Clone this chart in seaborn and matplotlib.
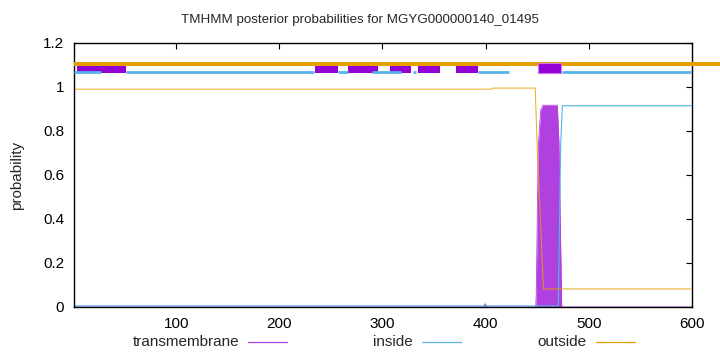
import numpy as np
import pandas as pd
import matplotlib
matplotlib.use("Agg")
import matplotlib.pyplot as plt
import seaborn as sns
from matplotlib.lines import Line2D

sns.set_theme(style="white")
plt.rcParams['font.family'] = ['Liberation Sans', 'DejaVu Sans']

title = "TMHMM posterior probabilities for MGYG000000140_01495"
seq_len = 599

# posterior probability curves (breakpoints)
tm_pos = [1, 398, 399.5, 401, 448.5, 449, 451, 453.4, 455.6, 469.4, 471, 473.7, 599]
tm_prob = [0.0, 0.0, 0.015, 0.0, 0.0, 0.05, 0.73, 0.895, 0.917, 0.917, 0.75, 0.0, 0.0]
inside_pos = [1, 470.4, 472.7, 474.3, 599]
inside_prob = [0.005, 0.005, 0.73, 0.915, 0.915]
outside_pos = [1, 406, 407, 448, 450, 456, 599]
outside_prob = [0.99, 0.99, 0.995, 0.995, 0.73, 0.082, 0.082]

# predicted topology bars at the top
outside_bar = [1, 640]
tm_box_starts = [4, 235, 267, 307, 334, 371]
tm_box_ends = [51, 257, 296, 328, 356, 393]
tm_main_box = [450.5, 472.7]
inside_starts = [1, 51, 257, 290, 330, 393, 474]
inside_ends = [27.6, 234, 267, 318, 332.6, 423, 599]

levels = {"outside": 1.105, "tm_bottom": 1.0636, "tm_top": 1.0955,
          "tm_main_top": 1.1105, "inside": 1.066}

xticks = [100, 200, 300, 400, 500, 600]
yticks = [0, 0.2, 0.4, 0.6, 0.8, 1.0, 1.2]
ytick_labels = ["0", "0.2", "0.4", "0.6", "0.8", "1", "1.2"]
legend_labels = ["transmembrane", "inside", "outside"]

c_tm = "#9400D3"
c_tm_fill = "#b040e0"
c_in = "#56B4E9"
c_out = "#E69F00"

W, H = 720, 352
fig = plt.figure(figsize=(W / 100, H / 100), dpi=100)
ax = fig.add_axes([74 / W, 1 - 307 / H, (692 - 74) / W, (307 - 43) / H])

tm_df = pd.DataFrame({"pos": tm_pos, "prob": tm_prob})
in_df = pd.DataFrame({"pos": inside_pos, "prob": inside_prob})
out_df = pd.DataFrame({"pos": outside_pos, "prob": outside_prob})

ax.fill_between(tm_df["pos"], 0, tm_df["prob"], color=c_tm_fill, lw=0)
sns.lineplot(data=tm_df, x="pos", y="prob", ax=ax, color=c_tm_fill, lw=0.6)
sns.lineplot(data=in_df, x="pos", y="prob", ax=ax, color=c_in, lw=0.8)
sns.lineplot(data=out_df, x="pos", y="prob", ax=ax, color=c_out, lw=0.8, alpha=0.8)

# topology bars
ax.hlines(levels["outside"], outside_bar[0], outside_bar[1], color=c_out, lw=2.9,
          clip_on=False, zorder=3)
tm_w = [e - s for s, e in zip(tm_box_starts, tm_box_ends)]
ax.bar(tm_box_starts, levels["tm_top"] - levels["tm_bottom"], width=tm_w,
       bottom=levels["tm_bottom"], align="edge", color=c_tm, lw=0, zorder=4)
ax.bar([tm_main_box[0]], levels["tm_main_top"] - levels["tm_bottom"],
       width=tm_main_box[1] - tm_main_box[0], bottom=levels["tm_bottom"],
       align="edge", color=c_tm, edgecolor="#c878e8", lw=0.8, zorder=4)
ax.hlines([levels["inside"]] * len(inside_starts), inside_starts, inside_ends,
          color=c_in, lw=2.0, zorder=5)

ax.set_xlim(1, seq_len)
ax.set_ylim(0, 1.2)
ax.set_xticks(xticks)
ax.set_xticklabels([str(t) for t in xticks])
ax.set_yticks(yticks)
ax.set_yticklabels(ytick_labels)
ax.set_xlabel("")
ax.set_ylabel("")
ax.tick_params(direction="in", length=4, width=0.8, top=True, right=True,
               labelsize=11, colors="black")
ax.tick_params(axis="x", pad=7)
ax.tick_params(axis="y", pad=7)
for s in ax.spines.values():
    s.set_color("black")
    s.set_linewidth(1.0)
    s.set_visible(True)

fig.text(0.5, 1 - 20 / H, title, ha="center", va="center", fontsize=9.6)
fig.text(17 / W, 1 - 175 / H, "probability", rotation=90, ha="center",
         va="center", fontsize=11)

# legend: right-aligned labels followed by sample lines
leg_y = 1 - 342 / H
leg_right = [239, 413, 587]
for lab, col, xr in zip(legend_labels, [c_tm_fill, c_in, c_out], leg_right):
    fig.text(xr / W, leg_y, lab, ha="right", va="center", fontsize=11)
    fig.add_artist(Line2D([(xr + 9) / W, (xr + 48) / W], [leg_y, leg_y],
                          color=col, lw=0.9, transform=fig.transFigure))

fig.savefig("out.png", dpi=100)
